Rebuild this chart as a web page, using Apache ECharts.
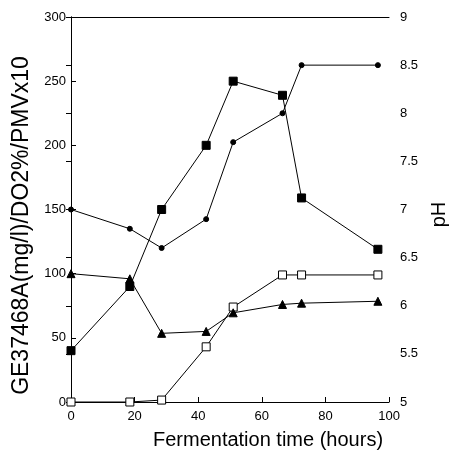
<!DOCTYPE html>
<html>
<head>
<meta charset="utf-8">
<script src="https://cdn.jsdelivr.net/npm/echarts@6/dist/echarts.min.js"></script>
<style>
  html, body { margin: 0; padding: 0; background: #fff; }
  #chart { width: 457px; height: 455px; }
</style>
</head>
<body>
<div id="chart"></div>
<script>
const hours = [0, 18.5, 28.5, 42.5, 51, 66.5, 72.5, 96.5]
const ge37468a = [40, 90, 150, 200, 250, 239, 159, 119]
const pmv = [0, 0, 1.5, 43, 74, 99, 99, 99]
const dO2 = [100, 96, 53.5, 55, 69.5, 76, 77, 78.5]
const pH = [7.0, 6.8, 6.6, 6.9, 7.7, 8.0, 8.5, 8.5]

const font = 'Liberation Sans, Arial, sans-serif'
const pair = (ys) => hours.map((h, i) => [h, ys[i]])

const chart = echarts.init(document.getElementById('chart'))

const line = (name, ys, symbol, size, fill, yIdx) => ({
  name,
  type: 'line',
  yAxisIndex: yIdx || 0,
  data: pair(ys),
  symbol,
  symbolSize: size,
  showSymbol: true,
  itemStyle: { color: fill, borderColor: '#000', borderWidth: 1 },
  lineStyle: { color: '#000', width: 1 },
  animation: false
})

chart.setOption({
  backgroundColor: '#fff',
  grid: { left: 71, right: 56, top: 17, bottom: 53 },
  xAxis: [
    {
      type: 'value',
      min: 0,
      max: 100,
      interval: 20,
      name: 'Fermentation time (hours)',
      nameLocation: 'middle',
      nameGap: 28,
      // shifted right like in the original figure
      nameTextStyle: { fontFamily: font, fontSize: 20, color: '#000', padding: [0, 0, 0, 76] },
      axisLine: { lineStyle: { color: '#000' } },
      axisTick: { inside: true, length: 5, lineStyle: { color: '#000' } },
      axisLabel: { fontFamily: font, fontSize: 13, color: '#000', margin: 8 },
      splitLine: { show: false }
    },
    {
      type: 'value',
      position: 'top',
      min: 0,
      max: 100,
      axisLine: { show: true, onZero: false, lineStyle: { color: '#000' } },
      axisTick: { show: false },
      axisLabel: { show: false },
      splitLine: { show: false }
    }
  ],
  yAxis: [
    {
      type: 'value',
      min: 0,
      max: 300,
      interval: 50,
      name: 'GE37468A(mg/l)/DO2%/PMVx10',
      nameLocation: 'middle',
      nameRotate: 90,
      nameGap: 31,
      nameTextStyle: { fontFamily: font, fontSize: 23, color: '#000', padding: [0, 32, 0, 0] },
      axisLine: { show: true, lineStyle: { color: '#000' } },
      axisTick: { show: true, inside: true, length: 5, lineStyle: { color: '#000' } },
      axisLabel: { fontFamily: font, fontSize: 13, color: '#000', margin: 5 },
      splitLine: { show: false }
    },
    {
      type: 'value',
      position: 'right',
      min: 5,
      max: 9,
      interval: 0.5,
      name: 'pH',
      nameLocation: 'middle',
      nameRotate: 90,
      nameGap: 28,
      nameTextStyle: { fontFamily: font, fontSize: 20, color: '#000', padding: [0, 10, 0, 0] },
      axisLine: { show: true, lineStyle: { color: '#000' } },
      axisTick: { show: true, inside: true, length: 5, lineStyle: { color: '#000' } },
      axisLabel: { fontFamily: font, fontSize: 13, color: '#000', margin: 11 },
      splitLine: { show: false }
    }
  ],
  series: [
    line('GE37468A', ge37468a, 'rect', 8, '#000'),
    line('PMV', pmv, 'rect', 8, '#fff'),
    line('DO2', dO2, 'triangle', 8, '#000'),
    line('pH', pH, 'circle', 5, '#000', 1)
  ]
})

window.addEventListener('resize', () => chart.resize())
</script>
</body>
</html>
